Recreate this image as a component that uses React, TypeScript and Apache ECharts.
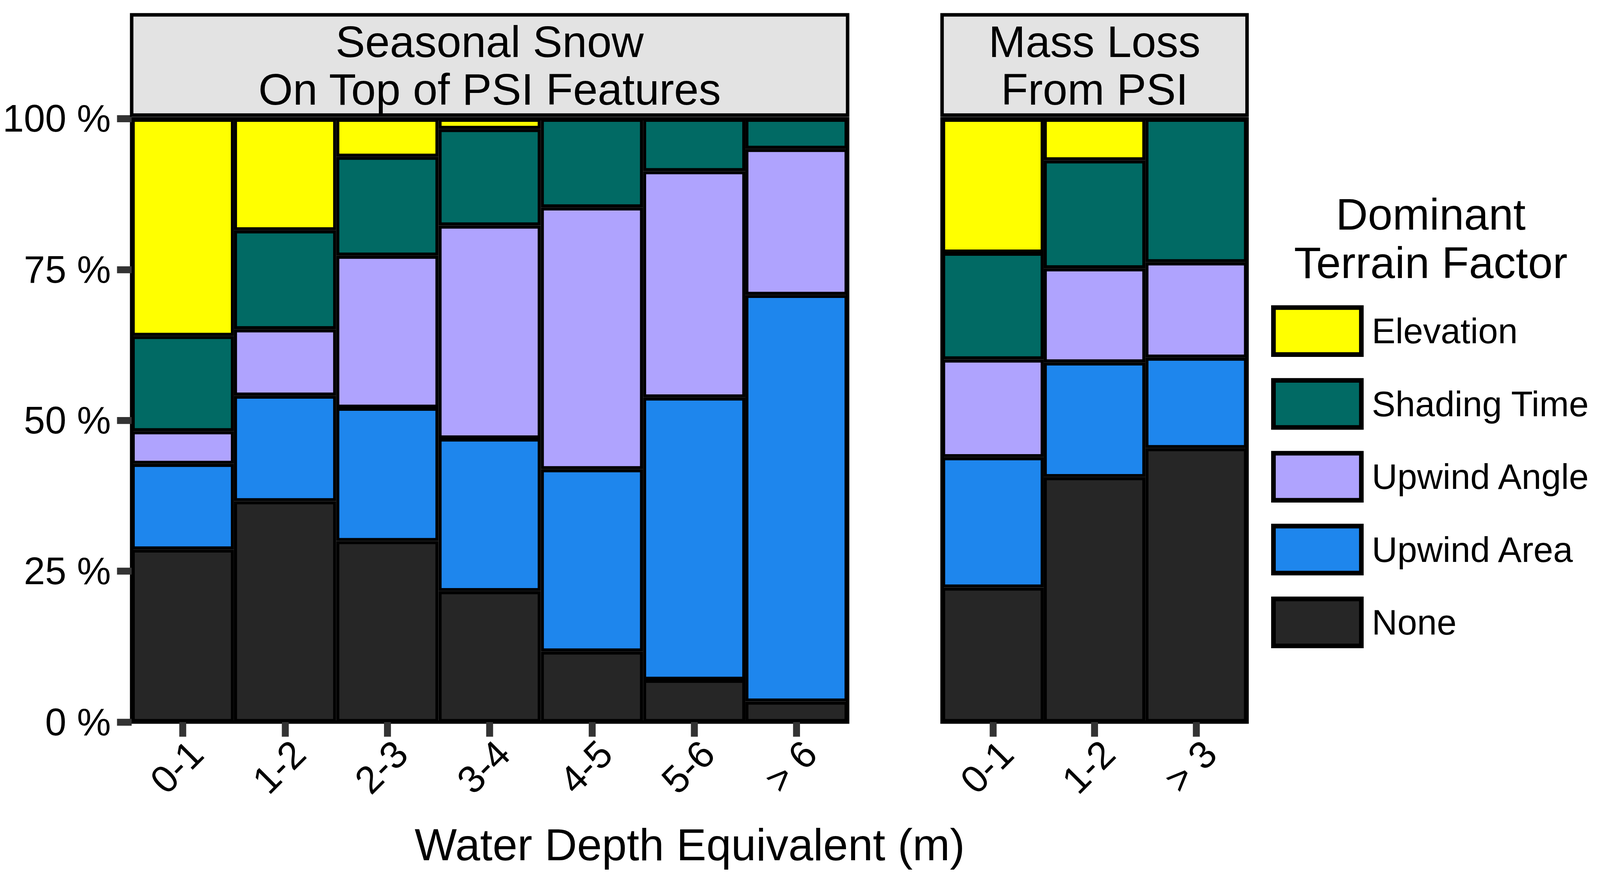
import React, { useEffect, useRef, useState } from "react";
import * as echarts from "echarts";

const snowCategories = ["0-1", "1-2", "2-3", "3-4", "4-5", "5-6", "> 6"];
const massCategories = ["0-1", "1-2", "> 3"];
const factors = ["Elevation", "Shading Time", "Upwind Angle", "Upwind Area", "None"];
const factorColors = ["#FFFF00", "#016A64", "#AFA3FE", "#1E86ED", "#262626"];
const yTicks = [0, 25, 50, 75, 100];

// Seasonal snow on top of PSI features (percent per bin)
const snowElevation = [36.0, 18.5, 6.3, 1.7, 0, 0, 0];
const snowShading = [15.8, 16.4, 16.4, 16.0, 14.7, 8.7, 5.0];
const snowAngle = [5.4, 11.0, 25.2, 35.3, 43.4, 37.5, 24.2];
const snowArea = [14.2, 17.5, 22.1, 25.3, 30.2, 46.8, 67.4];
const snowNone = [28.6, 36.6, 30.0, 21.7, 11.7, 7.0, 3.4];

// Mass loss from PSI (percent per bin)
const massElevation = [22.2, 6.9, 0];
const massShading = [17.7, 17.9, 23.8];
const massAngle = [16.2, 15.6, 15.8];
const massArea = [21.6, 19.0, 15.0];
const massNone = [22.3, 40.6, 45.4];

const FONT = "'Liberation Sans', Arial, Helvetica, sans-serif";
const W = 4150;
const H = 2292;

export default function App() {
  const ref = useRef<HTMLDivElement>(null);
  const [scale] = useState(() => {
    if (typeof window === "undefined") return 1;
    const s = Math.min(window.innerWidth / W, window.innerHeight / H);
    return s > 0 && isFinite(s) ? s : 1;
  });

  useEffect(() => {
    if (!ref.current) return;
    const chart = echarts.init(ref.current, null, { renderer: "svg", width: W, height: H });

    const snowData = [snowElevation, snowShading, snowAngle, snowArea, snowNone];
    const massData = [massElevation, massShading, massAngle, massArea, massNone];
    // stacking order bottom -> top: None, Upwind Area, Upwind Angle, Shading Time, Elevation
    const order = [4, 3, 2, 1, 0];

    const mkSeries = (panel: number, data: number[][], stack: string) =>
      order.map((i) => ({
        type: "bar",
        name: factors[i],
        stack,
        xAxisIndex: panel,
        yAxisIndex: panel,
        barWidth: "100%",
        barCategoryGap: 0,
        itemStyle: { color: factorColors[i], borderColor: "#000", borderWidth: 8 },
        emphasis: { disabled: true },
        data: data[i].map((v) => (v > 0 ? v : "-")),
      }));

    const tickStyle = { color: "#333333", width: 18 };
    const gridBase = {
      top: 308,
      height: 1565.5,
      show: true,
      borderColor: "#000",
      borderWidth: 9,
      backgroundColor: "transparent",
      containLabel: false,
      outerBoundsMode: "none",
    };

    const xAxisBase = (gridIndex: number, data: string[]) => ({
      type: "category",
      gridIndex,
      data,
      axisLine: { show: false },
      axisTick: { show: true, alignWithLabel: true, length: 38, lineStyle: tickStyle },
      axisLabel: {
        rotate: 45,
        align: "right",
        verticalAlign: "top",
        margin: 30,
        fontSize: 100,
        color: "#000",
        fontFamily: FONT,
        interval: 0,
      },
      splitLine: { show: false },
    });

    const titleText = (x: number, y: number, text: string, size: number) => ({
      type: "text",
      z: 11,
      x,
      y,
      style: { text, fontSize: size, fontFamily: FONT, fill: "#000", align: "center", verticalAlign: "middle" },
    });

    const option: any = {
      animation: false,
      backgroundColor: "#ffffff",
      textStyle: { fontFamily: FONT },
      grid: [
        { ...gridBase, left: 341.5, width: 1857 },
        { ...gridBase, left: 2443.5, width: 791 },
      ],
      xAxis: [xAxisBase(0, snowCategories), xAxisBase(1, massCategories)],
      yAxis: [
        {
          type: "value",
          gridIndex: 0,
          min: yTicks[0],
          max: yTicks[yTicks.length - 1],
          interval: 25,
          axisLine: { show: false },
          axisTick: { show: true, length: 38, lineStyle: tickStyle },
          axisLabel: {
            formatter: (v: number) => v + " %",
            fontSize: 99,
            margin: 54,
            color: "#000",
            fontFamily: FONT,
          },
          splitLine: { show: false },
        },
        {
          type: "value",
          gridIndex: 1,
          min: 0,
          max: 100,
          interval: 25,
          axisLine: { show: false },
          axisTick: { show: false },
          axisLabel: { show: false },
          splitLine: { show: false },
        },
      ],
      legend: {
        data: factors,
        orient: "vertical",
        left: 3297,
        top: 792,
        padding: 0,
        itemWidth: 228,
        itemHeight: 122,
        itemGap: 55,
        icon: "rect",
        selectedMode: false,
        itemStyle: { borderWidth: 12, borderColor: "#000" },
        textStyle: { fontSize: 92, color: "#000", fontFamily: FONT, padding: [0, 0, 0, 22] },
      },
      series: [...mkSeries(0, snowData, "snow"), ...mkSeries(1, massData, "mass")],
      graphic: [
        {
          type: "rect",
          z: 10,
          shape: { x: 341.5, y: 38.5, width: 1857, height: 260 },
          style: { fill: "#E3E3E3", stroke: "#000", lineWidth: 9 },
        },
        {
          type: "rect",
          z: 10,
          shape: { x: 2443.5, y: 38.5, width: 791, height: 260 },
          style: { fill: "#E3E3E3", stroke: "#000", lineWidth: 9 },
        },
        titleText(1270, 108, "Seasonal Snow", 115),
        titleText(1270, 232, "On Top of PSI Features", 115),
        titleText(2839, 108, "Mass Loss", 115),
        titleText(2839, 232, "From PSI", 115),
        titleText(1789, 2191.5, "Water Depth Equivalent (m)", 116),
        titleText(3711, 556, "Dominant", 115),
        titleText(3711, 681.5, "Terrain Factor", 115),
      ],
    };

    chart.setOption(option);
    return () => chart.dispose();
  }, []);

  return (
    <div
      style={{
        position: "fixed",
        left: 0,
        top: 0,
        width: W,
        height: H,
        background: "#fff",
        transform: `scale(${scale})`,
        transformOrigin: "0 0",
      }}
    >
      <div ref={ref} style={{ width: W, height: H }} />
    </div>
  );
}
